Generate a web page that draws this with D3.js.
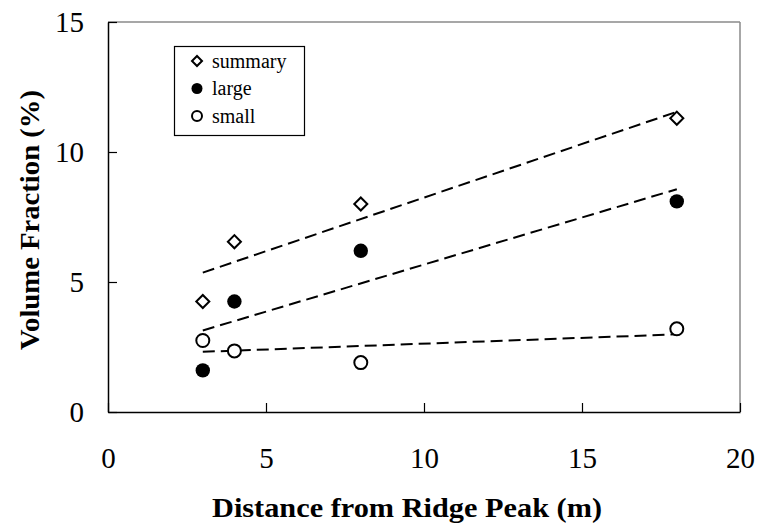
<!DOCTYPE html>
<html>
<head>
<meta charset="utf-8">
<script src="https://cdn.jsdelivr.net/npm/d3@7"></script>
<style>
  body { margin: 0; background: #fff; }
  svg { display: block; font-family: "Liberation Serif", "Times New Roman", serif; }
</style>
</head>
<body>
<svg></svg>
<script>
var width = 758;
var height = 525;

// distance from ridge peak (m) and volume fraction (%) for each group
var distances = [3, 4, 8, 18];
var summaryVals = [4.25, 6.55, 8.0, 11.3];
var largeVals = [1.6, 4.25, 6.2, 8.1];
var smallVals = [2.75, 2.35, 1.9, 3.2];
var seriesNames = ['summary', 'large', 'small'];
var xTicks = [0, 5, 10, 15, 20];
var yTicks = [0, 5, 10, 15];

var series = [
  {name: seriesNames[0], values: summaryVals, shape: 'diamond'},
  {name: seriesNames[1], values: largeVals, shape: 'filled'},
  {name: seriesNames[2], values: smallVals, shape: 'open'}
];

var svg = d3.select('svg')
    .attr('width', width)
    .attr('height', height);

var Xscale = d3.scaleLinear().domain([0, 20]).range([108, 740]);
var Yscale = d3.scaleLinear().domain([0, 15]).range([412, 22]);

// plot frame: top and right edges in grey
svg.append('line')
    .attr('x1', Xscale(0)).attr('x2', Xscale(20))
    .attr('y1', Yscale(15)).attr('y2', Yscale(15))
    .attr('stroke', '#8a8a8a').attr('stroke-width', 1.5);
svg.append('line')
    .attr('x1', Xscale(20)).attr('x2', Xscale(20))
    .attr('y1', Yscale(15)).attr('y2', Yscale(0))
    .attr('stroke', '#8a8a8a').attr('stroke-width', 1.5);

var Xaxis = d3.axisBottom(Xscale)
    .tickValues(xTicks)
    .tickSizeInner(-9)
    .tickSizeOuter(0)
    .tickPadding(35);
var Yaxis = d3.axisLeft(Yscale)
    .tickValues(yTicks)
    .tickSizeInner(-9)
    .tickSizeOuter(0)
    .tickPadding(24);

var gx = svg.append('g')
    .attr('transform', `translate(0,${Yscale(0)})`)
    .call(Xaxis);
var gy = svg.append('g')
    .attr('transform', `translate(${Xscale(0)},0)`)
    .call(Yaxis);

[gx, gy].forEach(function (g) {
  g.select('.domain').attr('stroke', '#000').attr('stroke-width', 1.5);
  g.selectAll('.tick line').attr('stroke', '#000').attr('stroke-width', 1.2);
  g.selectAll('.tick text')
      .attr('fill', '#000')
      .style('font-family', '"Liberation Serif", serif')
      .style('font-size', '29px');
});

// least-squares trend line for each group
function fit(xs, ys) {
  var mx = d3.mean(xs), my = d3.mean(ys);
  var sxy = d3.sum(xs, (x, i) => (x - mx) * (ys[i] - my));
  var sxx = d3.sum(xs, x => (x - mx) * (x - mx));
  var b = sxy / sxx;
  return x => my + b * (x - mx);
}

var line = d3.line().x(d => Xscale(d[0])).y(d => Yscale(d[1]));
var xEnds = d3.extent(distances);

series.forEach(function (s) {
  var f = fit(distances, s.values);
  svg.append('path')
      .attr('d', line(xEnds.map(x => [x, f(x)])))
      .attr('fill', 'none')
      .attr('stroke', '#000')
      .attr('stroke-width', 2)
      .attr('stroke-dasharray', '12,6');
});

function drawMarker(g, shape, x, y, big) {
  if (shape === 'diamond') {
    g.append('path')
        .attr('d', d3.symbol(d3.symbolSquare, big ? 85 : 50)())
        .attr('transform', `translate(${x},${y}) rotate(45)`)
        .attr('fill', '#fff')
        .attr('stroke', '#000')
        .attr('stroke-width', 2);
  } else {
    g.append('circle')
        .attr('cx', x).attr('cy', y)
        .attr('r', shape === 'filled' ? (big ? 7.2 : 5.5) : (big ? 6.5 : 5))
        .attr('fill', shape === 'filled' ? '#000' : '#fff')
        .attr('stroke', '#000')
        .attr('stroke-width', shape === 'filled' ? 0 : 2);
  }
}

var points = svg.append('g');
series.forEach(function (s) {
  s.values.forEach(function (v, i) {
    drawMarker(points, s.shape, Xscale(distances[i]), Yscale(v), true);
  });
});

// legend
var legend = svg.append('g');
legend.append('rect')
    .attr('x', 174.5).attr('y', 46.5)
    .attr('width', 130).attr('height', 89)
    .attr('fill', '#fff')
    .attr('stroke', '#000')
    .attr('stroke-width', 1.2);

series.forEach(function (s, i) {
  var cy = 61 + i * 27.5;
  drawMarker(legend, s.shape, 197, cy, false);
  legend.append('text')
      .attr('x', 212)
      .attr('y', cy + 6.5)
      .style('font-size', '20px')
      .text(s.name);
});

// axis titles
svg.append('text')
    .attr('text-anchor', 'middle')
    .attr('x', 407)
    .attr('y', 517)
    .attr('textLength', 390)
    .attr('lengthAdjust', 'spacingAndGlyphs')
    .style('font-weight', 'bold')
    .style('font-size', '28px')
    .text('Distance from Ridge Peak (m)');

svg.append('text')
    .attr('text-anchor', 'middle')
    .attr('transform', `translate(39,220) rotate(-90)`)
    .attr('textLength', 260)
    .attr('lengthAdjust', 'spacingAndGlyphs')
    .style('font-weight', 'bold')
    .style('font-size', '28px')
    .text('Volume Fraction (%)');
</script>
</body>
</html>
